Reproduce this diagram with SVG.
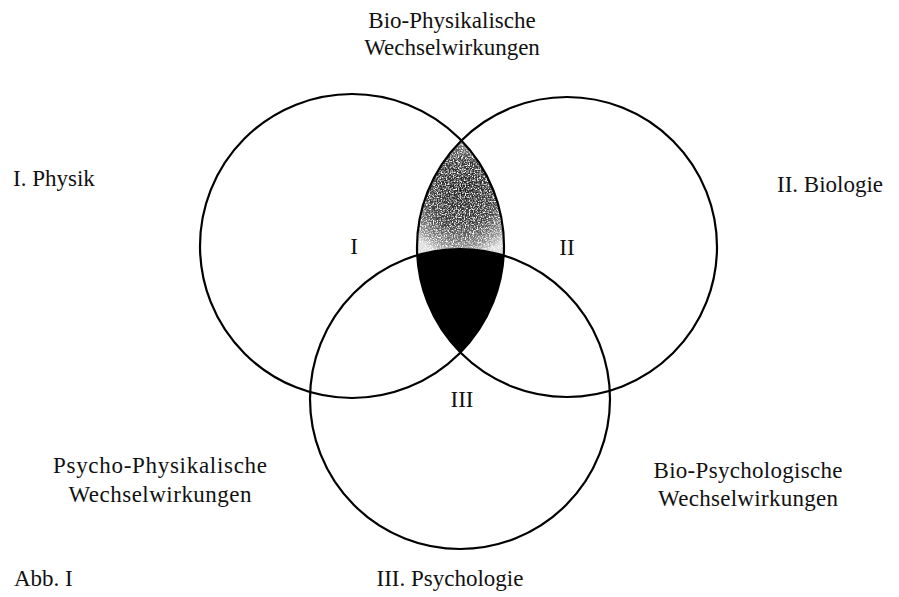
<svg xmlns="http://www.w3.org/2000/svg" width="899" height="597" viewBox="0 0 899 597">
  <style>
    .c { fill: none; stroke: #000; stroke-width: 2.2; }
    text { font-family: "Liberation Serif", "Times New Roman", serif; font-size: 23px; fill: #111; }
    .m { text-anchor: middle; }
  </style>
  <defs>
    <clipPath id="clipI"><circle cx="352" cy="246" r="152"/></clipPath>
    <clipPath id="clipII"><circle cx="567" cy="247" r="150"/></clipPath>
    <radialGradient id="shade" gradientUnits="userSpaceOnUse" cx="461" cy="195" r="62" fx="461" fy="190">
      <stop offset="0" stop-color="#1c1c1c"/>
      <stop offset="0.55" stop-color="#3a3a3a"/>
      <stop offset="0.85" stop-color="#8a8a8a"/>
      <stop offset="1" stop-color="#d8d8d8"/>
    </radialGradient>
    <filter id="speckle" x="0" y="0" width="100%" height="100%">
      <feTurbulence type="fractalNoise" baseFrequency="0.75" numOctaves="2" seed="4"/>
      <feColorMatrix type="matrix" values="0 0 0 0 1  0 0 0 0 1  0 0 0 0 1  3.2 0 0 0 -1.35"/>
    </filter>
  </defs>

  <g id="region-I-II">
    <g clip-path="url(#clipI)">
      <g clip-path="url(#clipII)">
        <rect x="400" y="130" width="120" height="240" fill="url(#shade)"/>
        <rect x="400" y="130" width="120" height="240" filter="url(#speckle)"/>
        <circle cx="460" cy="399" r="150" fill="#000"/>
      </g>
    </g>
  </g>

  <g id="circle-I"><circle class="c" cx="352" cy="246" r="152"/></g>
  <g id="circle-II"><circle class="c" cx="567" cy="247" r="150"/></g>
  <g id="circle-III"><circle class="c" cx="460" cy="399" r="150"/></g>

  <g id="labels">
    <text class="m" x="452" y="28">Bio-Physikalische</text>
    <text class="m" x="452" y="55">Wechselwirkungen</text>
    <text x="13" y="186">I. Physik</text>
    <text x="777" y="192">II. Biologie</text>
    <text class="m" x="354" y="254">I</text>
    <text class="m" x="567" y="255">II</text>
    <text class="m" x="462" y="407">III</text>
    <text class="m" x="160" y="473" textLength="214" lengthAdjust="spacing">Psycho-Physikalische</text>
    <text class="m" x="160" y="502" textLength="183" lengthAdjust="spacing">Wechselwirkungen</text>
    <text class="m" x="748" y="478" textLength="189" lengthAdjust="spacing">Bio-Psychologische</text>
    <text class="m" x="748" y="506" textLength="180" lengthAdjust="spacing">Wechselwirkungen</text>
    <text x="14" y="586">Abb. I</text>
    <text class="m" x="450" y="586">III. Psychologie</text>
  </g>
</svg>
